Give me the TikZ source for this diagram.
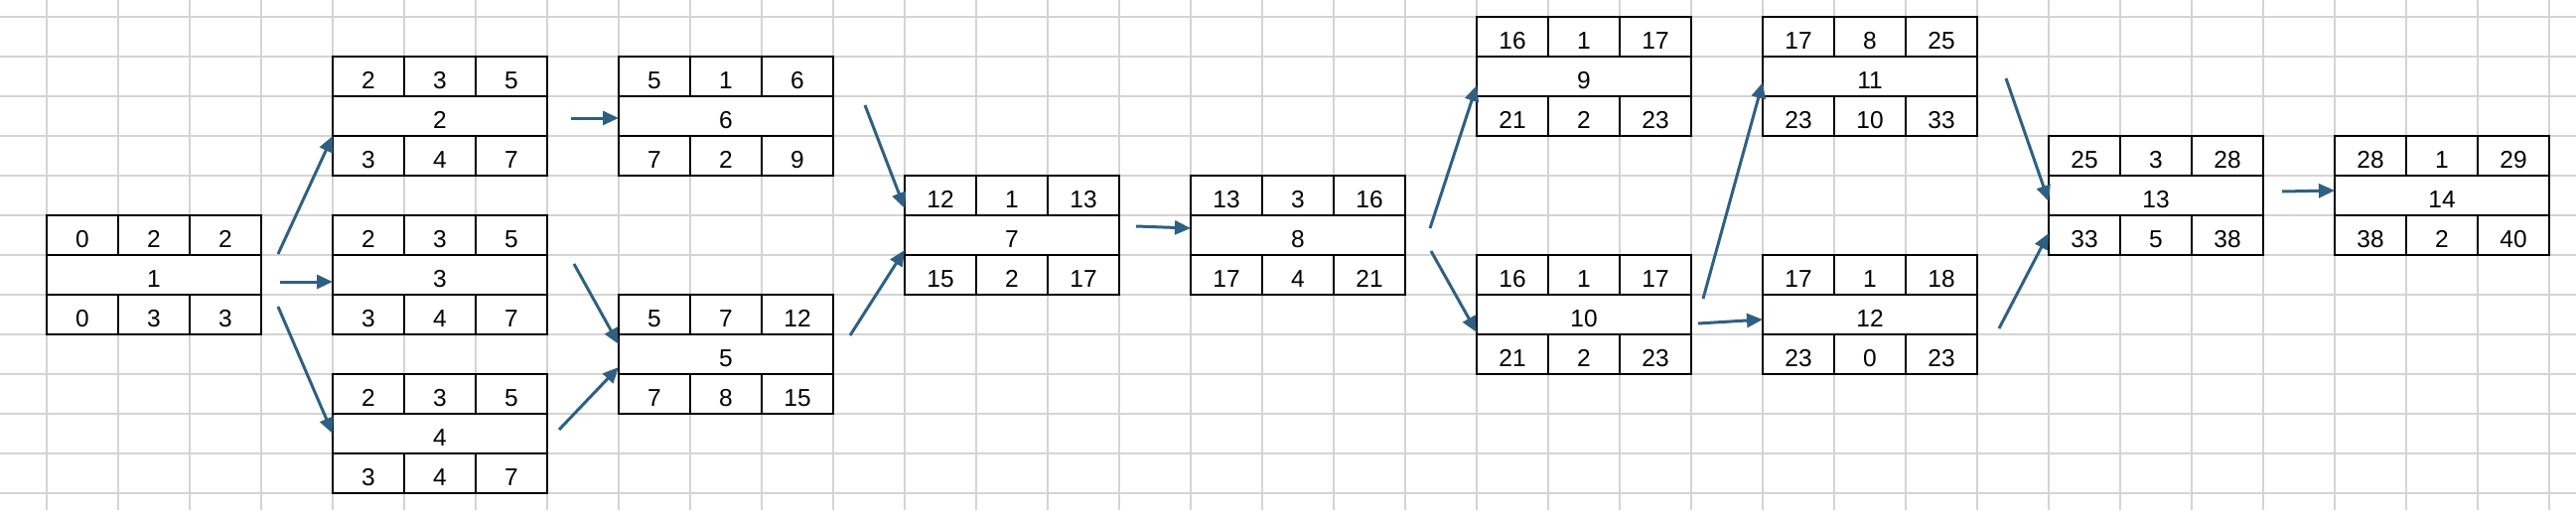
\documentclass[tikz,border=0pt]{standalone}
\usepackage{fontspec}
\setmainfont{Liberation Sans}
\usetikzlibrary{calc,arrows.meta}
\definecolor{arrblue}{RGB}{47,96,130}
\definecolor{gridgray}{RGB}{212,212,212}

% one activity box: name, top left corner, ES, D, EF, number, LS, float, LF
\newcommand{\actbox}[9]{%
	\node[box] (#1) at #2 {};
	\draw[cell] ($(#1.north west)+(0,40)$) -- ($(#1.north east)+(0,40)$);
	\draw[cell] ($(#1.south west)+(0,-40)$) -- ($(#1.south east)+(0,-40)$);
	\draw[cell] ($(#1.north west)+(72,0)$) -- ++(0,40);
	\draw[cell] ($(#1.north west)+(144,0)$) -- ++(0,40);
	\draw[cell] ($(#1.south west)+(72,0)$) -- ++(0,-40);
	\draw[cell] ($(#1.south west)+(144,0)$) -- ++(0,-40);
	\node[num] (#1es) at ($(#1.north west)+(36,32)$) {#3};
	\node[num] (#1d) at ($(#1.north west)+(108,32)$) {#4};
	\node[num] (#1ef) at ($(#1.north west)+(180,32)$) {#5};
	\node[num] (#1id) at ($(#1.north west)+(108,72)$) {#6};
	\node[num] (#1ls) at ($(#1.north west)+(36,112)$) {#7};
	\node[num] (#1fl) at ($(#1.north west)+(108,112)$) {#8};
	\node[num] (#1lf) at ($(#1.north west)+(180,112)$) {#9};
}

\begin{document}
\begin{tikzpicture}[x=1pt, y=-1pt]
	\tikzset{box/.style={rectangle, draw=black, fill=white, line width=2pt, minimum width=216pt, minimum height=120pt, inner sep=0pt, outer sep=0pt, anchor=north west}};
	\tikzset{cell/.style={draw=black, line width=2pt}};
	\tikzset{num/.style={anchor=base, inner sep=0pt, font=\fontsize{24.5}{28}\selectfont}};
	\tikzset{arr/.style={-{Triangle[length=16pt, width=14pt]}, draw=arrblue, fill=arrblue, line width=3pt}};
	\tikzset{gridline/.style={draw=gridgray, line width=1.4pt}};

	\useasboundingbox (0,0) rectangle (2594,514);

	% sheet grid
	\foreach \k in {0,...,35}
		\draw[gridline] (47+72*\k,0) -- (47+72*\k,514);
	\foreach \k in {0,...,12}
		\draw[gridline] (0,17+40*\k) -- (2594,17+40*\k);

	\actbox{t1}{(47,217)}{0}{2}{2}{1}{0}{3}{3}
	\actbox{t2}{(335,57)}{2}{3}{5}{2}{3}{4}{7}
	\actbox{t3}{(335,217)}{2}{3}{5}{3}{3}{4}{7}
	\actbox{t4}{(335,377)}{2}{3}{5}{4}{3}{4}{7}
	\actbox{t6}{(623,57)}{5}{1}{6}{6}{7}{2}{9}
	\actbox{t5}{(623,297)}{5}{7}{12}{5}{7}{8}{15}
	\actbox{t7}{(911,177)}{12}{1}{13}{7}{15}{2}{17}
	\actbox{t8}{(1199,177)}{13}{3}{16}{8}{17}{4}{21}
	\actbox{t9}{(1487,17)}{16}{1}{17}{9}{21}{2}{23}
	\actbox{t10}{(1487,257)}{16}{1}{17}{10}{21}{2}{23}
	\actbox{t11}{(1775,17)}{17}{8}{25}{11}{23}{10}{33}
	\actbox{t12}{(1775,257)}{17}{1}{18}{12}{23}{0}{23}
	\actbox{t13}{(2063,137)}{25}{3}{28}{13}{33}{5}{38}
	\actbox{t14}{(2351,137)}{28}{1}{29}{14}{38}{2}{40}

	\draw[arr] ($(t1.north east)+(17,39)$) -- ($(t2.south west)+(0,-40)$);
	\draw[arr] ($(t1.east)+(19,7)$) -- ($(t3.west)+(0,7)$);
	\draw[arr] ($(t1.east)+(17,32)$) -- (t4.west);

	\draw[arr] ($(t2.east)+(24,2)$) -- ($(t6.west)+(0,2)$);
	\draw[arr] ($(t3.east)+(27,-11)$) -- ($(t5.west)+(0,-10)$);
	\draw[arr] ($(t4.east)+(12,-4)$) -- ($(t5.west)+(0,13)$);

	\draw[arr] ($(t6.east)+(32,-11)$) -- ($(t7.west)+(0,-27)$);
	\draw[arr] ($(t5.east)+(17,-19)$) -- ($(t7.west)+(0,15)$);

	\draw[arr] ($(t7.east)+(17,-9)$) -- ($(t8.west)+(0,-7)$);

	\draw[arr] ($(t8.east)+(25,-7)$) -- ($(t9.west)+(0,9)$);
	\draw[arr] ($(t8.east)+(26,16)$) -- ($(t10.west)+(0,18)$);

	\draw[arr] ($(t10.east)+(12,-16)$) -- ($(t11.west)+(0,6)$);
	\draw[arr] ($(t10.east)+(7,9)$) -- ($(t12.west)+(0,5)$);

	\draw[arr] ($(t11.east)+(29,2)$) -- ($(t13.west)+(0,6)$);
	\draw[arr] ($(t12.east)+(22,14)$) -- ($(t13.west)+(0,38)$);

	\draw[arr] ($(t13.east)+(19,-4)$) -- ($(t14.west)+(0,-5)$);

\end{tikzpicture}
\end{document}
